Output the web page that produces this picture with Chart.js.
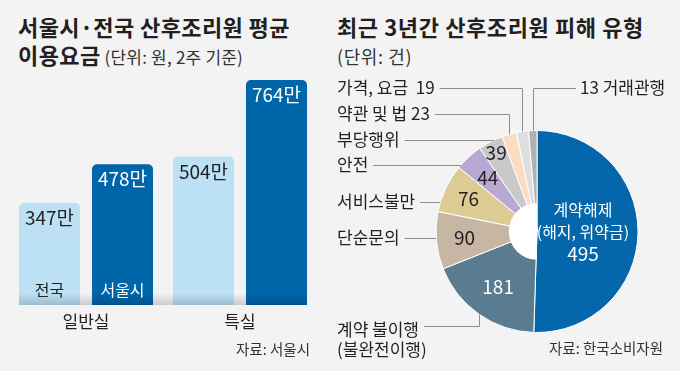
<!DOCTYPE html>
<html>
<head>
<meta charset="utf-8">
<script src="https://cdn.jsdelivr.net/npm/chart.js@4.4.0/dist/chart.umd.min.js"></script>
<style>
  body {
    margin: 0;
    width: 680px;
    height: 371px;
    overflow: hidden;
    position: relative;
    background: #f3f3f3;
    font-family: "Noto Sans CJK KR", "Noto Sans", sans-serif;
    color: #231f20;
  }
  .title {
    position: absolute;
    font-weight: bold;
    font-size: 22px;
    line-height: 1;
    letter-spacing: 0.4px;
    white-space: nowrap;
  }
  .unit {
    font-weight: normal;
    font-size: 17px;
    letter-spacing: 0.2px;
    color: #333;
  }
  canvas {
    position: absolute;
    top: 0;
  }
</style>
</head>
<body>
<div class="title" style="left:18px;top:15px">서울시·전국 산후조리원 평균</div>
<div class="title" style="left:18px;top:43px">이용요금<span class="unit" style="margin-left:4px">(단위: 원, 2주 기준)</span></div>
<div class="title" style="left:337px;top:15px;letter-spacing:0.6px">최근 3년간 산후조리원 피해 유형</div>
<div class="title unit" style="left:337px;top:47px;font-size:18px;letter-spacing:0.6px">(단위: 건)</div>

<div style="position:absolute;left:0;top:0;width:330px;height:371px"><canvas id="feeChart"></canvas></div>
<div style="position:absolute;left:330px;top:0;width:350px;height:371px"><canvas id="damageChart"></canvas></div>

<script>
// ---- data: fees (만 원) ----
const roomTypes = ["일반실", "특실"];
const regionNames = ["전국", "서울시"];
const nationalFees = [347, 504];
const seoulFees = [478, 764];
const feeMax = 800;

// ---- data: damage types (건), clockwise from 12 o'clock ----
const damageTypes = [
  "계약해제",
  "계약 불이행",
  "단순문의",
  "서비스불만",
  "안전",
  "부당행위",
  "약관 및 법",
  "가격, 요금",
  "거래관행",
];
const damageCounts = [495, 181, 90, 76, 44, 39, 23, 19, 13];

const lightBlue = "#bde1f4";
const darkBlue = "#0066aa";
const damageColors = [
  "#0466ab",
  "#5a7c90",
  "#c8b6a4",
  "#dccb93",
  "#b9a8d4",
  "#c9c9c9",
  "#f9dcc1",
  "#dedede",
  "#b1b1b1",
];
const textColor = "#231f20";
const font = '"Noto Sans CJK KR", "Noto Sans", sans-serif';

// bar labels: value on top, region name at bottom, room type below, source
const feeLabels = {
  id: "feeLabels",
  afterDatasetsDraw(chart) {
    const ctx = chart.ctx;
    const area = chart.chartArea;
    const first = chart.getDatasetMeta(0).data[0];
    const last = chart.getDatasetMeta(1).data[1];
    const left = first.x - first.width / 2;
    const right = last.x + last.width / 2;

    // soft shadow strip at the base
    const grad = ctx.createLinearGradient(0, area.bottom - 12, 0, area.bottom);
    grad.addColorStop(0, "rgba(0,0,0,0)");
    grad.addColorStop(1, "rgba(0,0,0,0.16)");
    ctx.save();
    ctx.fillStyle = grad;
    ctx.fillRect(left, area.bottom - 12, right - left, 12);

    ctx.textAlign = "center";
    ctx.textBaseline = "middle";
    chart.data.datasets.forEach((ds, d) => {
      const meta = chart.getDatasetMeta(d);
      meta.data.forEach((bar, i) => {
        ctx.fillStyle = d === 0 ? textColor : "#fff";
        ctx.font = `19px ${font}`;
        ctx.fillText(ds.data[i] + "만", bar.x, bar.y + 15);
        if (i === 0) {
          ctx.font = `16px ${font}`;
          ctx.fillText(ds.label, bar.x, area.bottom - 15);
        }
      });
    });

    ctx.fillStyle = textColor;
    ctx.font = `17px ${font}`;
    const xs = chart.scales.x;
    roomTypes.forEach((r, i) => {
      ctx.fillText(r, xs.getPixelForValue(i), area.bottom + 17);
    });

    ctx.textAlign = "right";
    ctx.font = `14.5px ${font}`;
    ctx.fillStyle = "#333";
    ctx.fillText("자료: 서울시", 310, 349);
    ctx.restore();
  },
};

new Chart(document.getElementById("feeChart"), {
  type: "bar",
  data: {
    labels: roomTypes,
    datasets: [
      {
        label: regionNames[0],
        data: nationalFees,
        backgroundColor: lightBlue,
        borderRadius: { topLeft: 5, topRight: 5 },
        borderSkipped: "start",
      },
      {
        label: regionNames[1],
        data: seoulFees,
        backgroundColor: darkBlue,
        borderRadius: { topLeft: 5, topRight: 5 },
        borderSkipped: "start",
      },
    ],
  },
  options: {
    responsive: true,
    maintainAspectRatio: false,
    animation: false,
    categoryPercentage: 0.948,
    barPercentage: 0.836,
    layout: { padding: { left: 9, right: 13, top: 69.4, bottom: 66 } },
    scales: {
      x: { display: false },
      y: { display: false, min: 0, max: feeMax },
    },
    plugins: { legend: { display: false }, tooltip: { enabled: false } },
  },
  plugins: [feeLabels],
});

// slice value label radius (fraction of outer radius)
const valueRadius = [0.455, 0.67, 0.72, 0.75, 0.72, 0.88];

const damageLabels = {
  id: "damageLabels",
  afterDatasetsDraw(chart) {
    const ctx = chart.ctx;
    const arcs = chart.getDatasetMeta(0).data;
    const cx = arcs[0].x;
    const cy = arcs[0].y;
    const r = arcs[0].outerRadius;
    const ox = 330; // page offset of this canvas

    ctx.save();
    // hole on the left half only
    ctx.fillStyle = "#fff";
    ctx.beginPath();
    ctx.moveTo(cx, cy);
    ctx.arc(cx, cy, r * 0.28, Math.PI / 2, Math.PI * 1.5);
    ctx.closePath();
    ctx.fill();

    // values inside slices
    ctx.textAlign = "center";
    ctx.textBaseline = "middle";
    for (let i = 0; i < valueRadius.length; i++) {
      const a = arcs[i];
      const mid = (a.startAngle + a.endAngle) / 2;
      const x = cx + Math.cos(mid) * r * valueRadius[i];
      const y = cy + Math.sin(mid) * r * valueRadius[i];
      ctx.fillStyle = i < 2 ? "#fff" : textColor;
      if (i === 0) {
        ctx.font = `16px ${font}`;
        ctx.fillText(damageTypes[0], x, y - 22);
        ctx.fillText("(해지, 위약금)", x, y);
        ctx.font = `19px ${font}`;
        ctx.fillText(damageCounts[0], x, y + 22);
      } else {
        ctx.font = `19px ${font}`;
        ctx.fillText(damageCounts[i], x, y);
      }
    }

    // leader-line labels
    const leaders = [
      { i: 7, text: damageTypes[7] + "  " + damageCounts[7], y: 88, kind: "top" },
      { i: 6, text: damageTypes[6] + " " + damageCounts[6], y: 114, kind: "top" },
      { i: 8, text: damageCounts[8] + " " + damageTypes[8], y: 88, kind: "top", right: 580 },
      { i: 5, text: damageTypes[5], y: 140, kind: "side" },
      { i: 4, text: damageTypes[4], y: 165, kind: "side" },
      { i: 3, text: damageTypes[3], y: 202, kind: "side" },
      { i: 2, text: damageTypes[2], y: 238, kind: "side" },
      { i: 1, text: damageTypes[1], y: 330, lineY: 326, kind: "bottom", extra: "(불완전이행)" },
    ];
    ctx.font = `17px ${font}`;
    ctx.strokeStyle = "#8c8c8c";
    ctx.lineWidth = 1;
    leaders.forEach((l) => {
      const a = arcs[l.i];
      const mid = (a.startAngle + a.endAngle) / 2;
      const lineY = l.lineY || l.y;
      ctx.fillStyle = textColor;
      let startX;
      ctx.textAlign = "left";
      if (l.right) {
        ctx.fillText(l.text, l.right - ox, l.y);
        startX = l.right - ox - 4;
      } else {
        ctx.fillText(l.text, 337 - ox, l.y);
        if (l.extra) ctx.fillText(l.extra, 337 - ox, l.y + 20);
        startX = 337 - ox + ctx.measureText(l.text).width + 5;
      }
      ctx.beginPath();
      const ly = Math.round(lineY) + 0.5;
      if (l.kind === "side") {
        const dy = lineY - cy;
        const ex = cx - Math.sqrt(r * r - dy * dy);
        ctx.moveTo(startX, ly);
        ctx.lineTo(ex, ly);
      } else {
        const ex = Math.round(cx + Math.cos(mid) * r) + 0.5;
        const dx = ex - cx;
        const h = Math.sqrt(r * r - dx * dx);
        const ey = l.kind === "top" ? cy - h : cy + h;
        ctx.moveTo(startX, ly);
        ctx.lineTo(ex, ly);
        ctx.lineTo(ex, ey);
      }
      ctx.stroke();
    });

    ctx.textAlign = "right";
    ctx.font = `14.5px ${font}`;
    ctx.fillStyle = "#333";
    ctx.fillText("자료: 한국소비자원", 663 - ox, 348);
    ctx.restore();
  },
};

new Chart(document.getElementById("damageChart"), {
  type: "pie",
  data: {
    labels: damageTypes,
    datasets: [
      {
        data: damageCounts,
        backgroundColor: damageColors,
        borderColor: "#fff",
        borderWidth: 1,
      },
    ],
  },
  options: {
    responsive: true,
    maintainAspectRatio: false,
    animation: false,
    layout: { padding: { left: 105.5, right: 41.5, top: 130, bottom: 38 } },
    plugins: { legend: { display: false }, tooltip: { enabled: false } },
  },
  plugins: [damageLabels],
});
</script>
</body>
</html>
